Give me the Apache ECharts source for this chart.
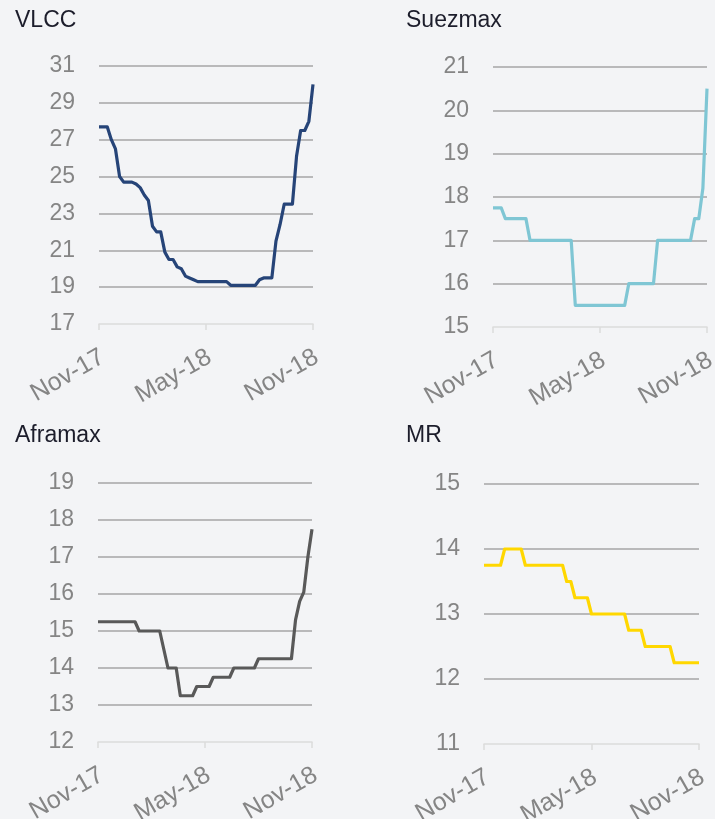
<!DOCTYPE html>
<html>
<head>
<meta charset="utf-8">
<script src="https://cdn.jsdelivr.net/npm/echarts@6/dist/echarts.min.js"></script>
<style>
html,body{margin:0;padding:0;background:#f3f4f6;}
#c{width:715px;height:819px;}
</style>
</head>
<body>
<div id="c"></div>
<script>
// Weekly observation dates (x categories)
const weeks = [
 '2017-11-01','2017-11-08','2017-11-15','2017-11-22','2017-11-29','2017-12-06','2017-12-13','2017-12-20','2017-12-27',
 '2018-01-03','2018-01-10','2018-01-17','2018-01-24','2018-01-31','2018-02-07','2018-02-14','2018-02-21','2018-02-28',
 '2018-03-07','2018-03-14','2018-03-21','2018-03-28','2018-04-04','2018-04-11','2018-04-18','2018-04-25','2018-05-02',
 '2018-05-09','2018-05-16','2018-05-23','2018-05-30','2018-06-06','2018-06-13','2018-06-20','2018-06-27','2018-07-04',
 '2018-07-11','2018-07-18','2018-07-25','2018-08-01','2018-08-08','2018-08-15','2018-08-22','2018-08-29','2018-09-05',
 '2018-09-12','2018-09-19','2018-09-26','2018-10-03','2018-10-10','2018-10-17','2018-10-24','2018-10-31'
];
// x tick labels and the week indices they sit on
const tickIdx = [0, 26, 52];
const tickLabels = ['Nov-17', 'May-18', 'Nov-18'];

const titles = ['VLCC', 'Suezmax', 'Aframax', 'MR'];

const vlcc = [27.7,27.7,27.7,27.0,26.5,25.0,24.7,24.7,24.7,24.6,24.4,24.0,23.7,22.3,22.0,22.0,20.9,20.5,20.5,20.1,
 20.0,19.6,19.5,19.4,19.3,19.3,19.3,19.3,19.3,19.3,19.3,19.3,19.1,19.1,19.1,19.1,19.1,19.1,19.1,19.4,
 19.5,19.5,19.5,21.5,22.4,23.5,23.5,23.5,26.1,27.5,27.5,28.0,30.0];
const suezmax = [17.75,17.75,17.75,17.5,17.5,17.5,17.5,17.5,17.5,17.0,17.0,17.0,17.0,17.0,17.0,17.0,17.0,17.0,17.0,17.0,
 15.5,15.5,15.5,15.5,15.5,15.5,15.5,15.5,15.5,15.5,15.5,15.5,15.5,16.0,16.0,16.0,16.0,16.0,16.0,16.0,
 17.0,17.0,17.0,17.0,17.0,17.0,17.0,17.0,17.0,17.5,17.5,18.2,20.5];
const aframax = [15.25,15.25,15.25,15.25,15.25,15.25,15.25,15.25,15.25,15.25,15.0,15.0,15.0,15.0,15.0,15.0,14.5,14.0,14.0,14.0,
 13.25,13.25,13.25,13.25,13.5,13.5,13.5,13.5,13.75,13.75,13.75,13.75,13.75,14.0,14.0,14.0,14.0,14.0,14.0,14.25,
 14.25,14.25,14.25,14.25,14.25,14.25,14.25,14.25,15.3,15.8,16.05,17.0,17.75];
const mr = [13.75,13.75,13.75,13.75,13.75,14.0,14.0,14.0,14.0,14.0,13.75,13.75,13.75,13.75,13.75,13.75,13.75,13.75,13.75,13.75,
 13.5,13.5,13.25,13.25,13.25,13.25,13.0,13.0,13.0,13.0,13.0,13.0,13.0,13.0,13.0,12.75,12.75,12.75,12.75,12.5,
 12.5,12.5,12.5,12.5,12.5,12.5,12.25,12.25,12.25,12.25,12.25,12.25,12.25];

const yMin = [17, 15, 12, 11];
const yMax = [31, 21, 19, 15];
const yStep = [2, 1, 1, 1];

const seriesData = [vlcc, suezmax, aframax, mr];
const colors = ['#264478', '#7fc6d4', '#595959', '#ffd700'];

const grids = [
  {left: 99, top: 66, width: 214, height: 258, outerBoundsMode: 'none'},
  {left: 493, top: 67, width: 214, height: 260, outerBoundsMode: 'none'},
  {left: 98, top: 483, width: 214, height: 259, outerBoundsMode: 'none'},
  {left: 484, top: 484, width: 215, height: 260, outerBoundsMode: 'none'}
];
const titlePos = [[15, 9], [406, 9], [15, 424], [406, 424]];

const font = 'Liberation Sans, Arial, sans-serif';
const chart = echarts.init(document.getElementById('c'));

chart.setOption({
  backgroundColor: '#f3f4f6',
  animation: false,
  title: titles.map((t, i) => ({
    text: t, left: titlePos[i][0], top: titlePos[i][1], padding: 0,
    textStyle: {fontFamily: font, fontSize: 23, fontWeight: 'normal', color: '#1c1d2b'}
  })),
  grid: grids,
  xAxis: grids.map((g, i) => ({
    type: 'category', gridIndex: i, data: weeks, boundaryGap: false,
    axisLine: {show: true, lineStyle: {color: '#dcdcdc', width: 1.5}},
    axisTick: {show: true, length: 6, lineStyle: {color: '#dcdcdc', width: 1.5},
      interval: (idx) => tickIdx.indexOf(idx) >= 0},
    axisLabel: {show: true, rotate: 30, margin: 19, align: 'right', verticalAlign: 'top',
      padding: [0, 3, 0, 0],
      fontFamily: font, fontSize: 25, color: '#858585',
      interval: (idx) => tickIdx.indexOf(idx) >= 0,
      formatter: (v, idx) => { const k = tickIdx.indexOf(idx); return k >= 0 ? tickLabels[k] : ''; }},
    splitLine: {show: false}
  })),
  yAxis: grids.map((g, i) => ({
    type: 'value', gridIndex: i, min: yMin[i], max: yMax[i], interval: yStep[i],
    axisLine: {show: false}, axisTick: {show: false},
    axisLabel: {margin: 24, fontFamily: font, fontSize: 23, color: '#858585'},
    splitLine: {show: true, showMinLine: false, lineStyle: {color: '#a6a6a6', width: 1.5}}
  })),
  series: seriesData.map((d, i) => ({
    type: 'line', xAxisIndex: i, yAxisIndex: i, data: d,
    showSymbol: false, symbol: 'none',
    lineStyle: {color: colors[i], width: 3.2, join: 'round'},
    z: 5
  }))
});
</script>
</body>
</html>
